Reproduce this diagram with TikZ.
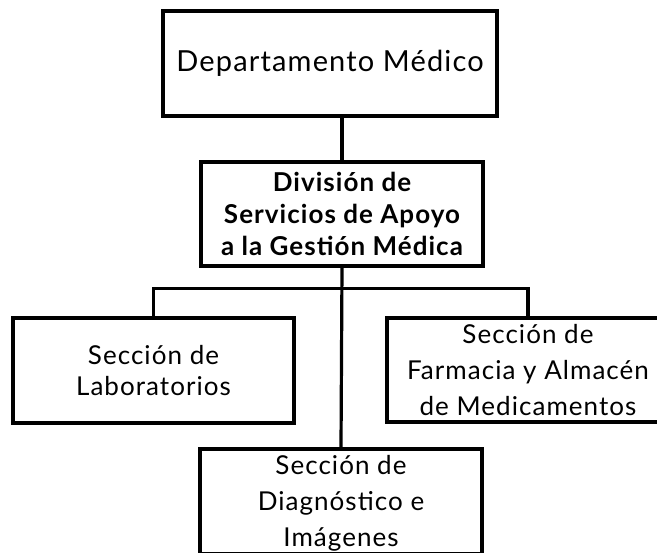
\documentclass[tikz,border=0pt]{standalone}
\usepackage{fontspec}
\setmainfont{Lato}[LetterSpace=4]

\begin{document}
\begin{tikzpicture}[x=1pt, y=1pt,
    caja/.style={draw, rectangle, line width=3.2pt, align=center, inner sep=0pt,
                 minimum width=282pt, minimum height=105pt,
                 font=\fontsize{26}{31}\selectfont},
    linea/.style={line width=3.2pt}]
    \useasboundingbox (0,0) rectangle (657,553);

    \node[caja, minimum width=334pt, font=\fontsize{29}{36}\selectfont] (depto) at (330,489.5) {Departamento Médico};
    \node[caja, minimum height=104pt, font=\fontsize{26}{32}\selectfont\bfseries] (division) at (342,339) {División de\\Servicios de Apoyo\\a la Gestión Médica};
    \node[caja, minimum width=281pt] (lab) at (153.5,182.5) {Sección de\\Laboratorios};
    \node[caja, minimum height=104pt, font=\fontsize{26}{36}\selectfont] (farm) at (528,183) {Sección de\\Farmacia y Almacén\\de Medicamentos};
    % texto mas abajo que el centro, como en el original
    \node[caja, text height=98pt, text depth=7pt, font=\fontsize{26}{36}\selectfont] (diag) at (341,51.5) {Sección de\\Diagnóstico e\\Imágenes};

    \draw[linea] (depto.south -| division.north) -- (division.north);
    \draw[linea] (division.south) -- (diag.north);
    \draw[linea] (lab.north) -- ++(0,28) -| (farm.north);
\end{tikzpicture}
\end{document}
